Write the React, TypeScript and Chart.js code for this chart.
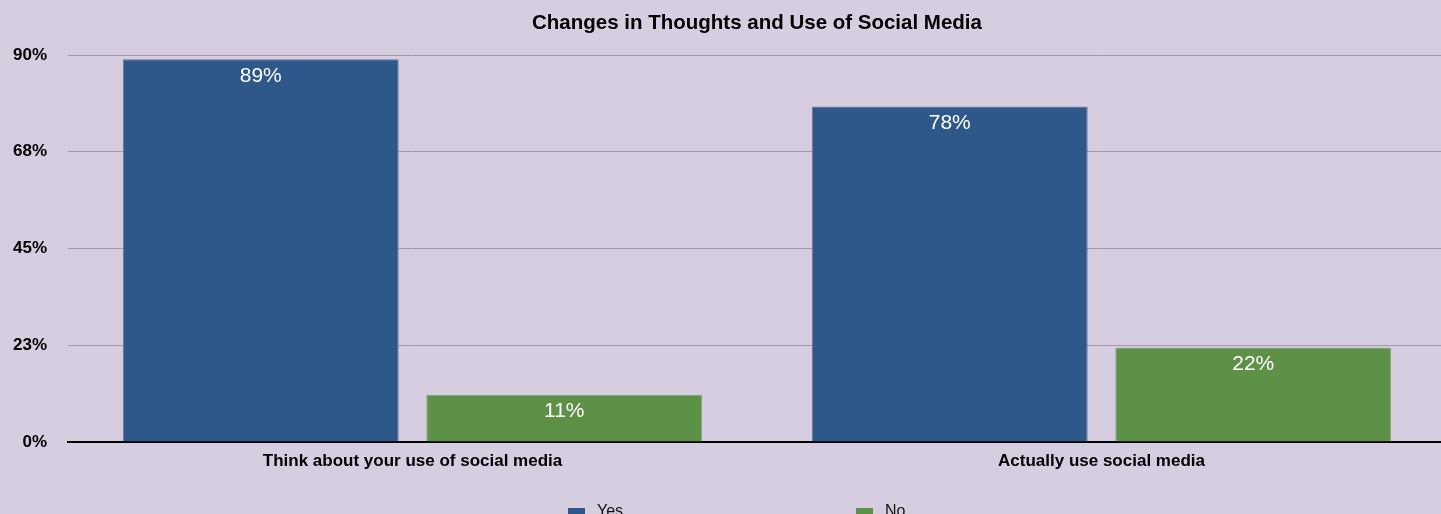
import React, { useEffect, useRef } from "react";
import { Chart, registerables } from "chart.js";

Chart.register(...registerables);

const TITLE = "Changes in Thoughts and Use of Social Media";
const categories = ["Think about your use of social media", "Actually use social media"];
const seriesNames = ["Yes", "No"];
const yesValues = [89, 78];
const noValues = [11, 22];
const yTickValues = [0, 22.5, 45, 67.5, 90];

const BG = "#d6cde1";
const YES_COLOR = "#2d5889";
const NO_COLOR = "#5e9148";
const YES_BORDER = "#5f7799";
const NO_BORDER = "#86a874";
const GRID = "#9e98a8";
const FONT = "'Liberation Sans', Arial, Helvetica, sans-serif";

const CW = 1446;
const CH = 530;

const bgPlugin = {
  id: "bgFill",
  beforeDraw(chart: any) {
    const { ctx } = chart;
    ctx.save();
    ctx.fillStyle = BG;
    ctx.fillRect(0, 0, chart.width, chart.height);
    ctx.restore();
  },
};

const titlePlugin = {
  id: "customTitle",
  afterDraw(chart: any) {
    const { ctx } = chart;
    ctx.save();
    ctx.fillStyle = "#000000";
    ctx.font = `bold 20.5px ${FONT}`;
    ctx.textAlign = "center";
    ctx.textBaseline = "middle";
    ctx.fillText(TITLE, chart.width / 2 + 34, 23);
    ctx.restore();
  },
};

const valueLabels = {
  id: "valueLabels",
  afterDatasetsDraw(chart: any) {
    const { ctx } = chart;
    ctx.save();
    ctx.fillStyle = "#ffffff";
    ctx.font = `21px ${FONT}`;
    ctx.textAlign = "center";
    ctx.textBaseline = "middle";
    chart.data.datasets.forEach((ds: any, di: number) => {
      const meta = chart.getDatasetMeta(di);
      meta.data.forEach((bar: any, i: number) => {
        ctx.fillText(`${ds.data[i]}%`, bar.x, bar.y + 17);
      });
    });
    ctx.restore();
  },
};

const bottomLegend = {
  id: "bottomLegend",
  afterDraw(chart: any) {
    const { ctx } = chart;
    const cx = chart.width / 2;
    const offsets = [-155, 133];
    ctx.save();
    ctx.font = `16px ${FONT}`;
    ctx.textBaseline = "alphabetic";
    ctx.textAlign = "left";
    chart.data.datasets.forEach((ds: any, di: number) => {
      const x = cx + offsets[di];
      const y = 508;
      ctx.fillStyle = ds.backgroundColor;
      ctx.fillRect(x, y, 17, 17);
      ctx.fillStyle = "#111111";
      ctx.fillText(ds.label, x + 29, y + 7.5);
    });
    ctx.restore();
  },
};

export default function App() {
  const ref = useRef<HTMLCanvasElement | null>(null);

  useEffect(() => {
    if (!ref.current) return;
    const chart = new Chart(ref.current, {
      type: "bar",
      data: {
        labels: categories,
        datasets: [
          {
            label: seriesNames[0],
            data: yesValues,
            backgroundColor: YES_COLOR,
            borderColor: YES_BORDER,
            borderWidth: 1,
            categoryPercentage: 0.881,
            barPercentage: 0.909,
          },
          {
            label: seriesNames[1],
            data: noValues,
            backgroundColor: NO_COLOR,
            borderColor: NO_BORDER,
            borderWidth: 1,
            categoryPercentage: 0.881,
            barPercentage: 0.909,
          },
        ],
      },
      options: {
        responsive: false,
        animation: false,
        devicePixelRatio: 1,
        layout: { padding: { top: 55, left: 0, right: 0, bottom: 60 } },
        plugins: {
          legend: { display: false },
          tooltip: { enabled: false },
          title: { display: false },
        },
        scales: {
          x: {
            grid: { display: false, drawTicks: false },
            border: { display: true, color: "#000000", width: 2 },
            ticks: {
              color: "#000000",
              font: { family: FONT, size: 17, weight: "bold" },
              padding: 9,
              maxRotation: 0,
            },
            afterFit: (s: any) => {
              s.height = 28;
            },
          },
          y: {
            min: 0,
            max: 90,
            afterBuildTicks: (s: any) => {
              s.ticks = yTickValues.map((v) => ({ value: v }));
            },
            grid: {
              color: GRID,
              lineWidth: 1,
              drawTicks: false,
            },
            border: { display: false },
            ticks: {
              color: "#000000",
              font: { family: FONT, size: 17, weight: "bold" },
              padding: 21,
              callback: (v: any) => `${Math.round(Number(v))}%`,
            },
            afterFit: (s: any) => {
              s.width = 68;
            },
          },
        },
      },
      plugins: [bgPlugin, valueLabels, bottomLegend, titlePlugin],
    });
    return () => chart.destroy();
  }, []);

  return (
    <div
      style={{
        position: "fixed",
        top: 0,
        left: 0,
        width: 1441,
        height: 514,
        overflow: "hidden",
        background: BG,
      }}
    >
      <canvas ref={ref} width={CW} height={CH} style={{ display: "block", width: CW, height: CH }} />
    </div>
  );
}
